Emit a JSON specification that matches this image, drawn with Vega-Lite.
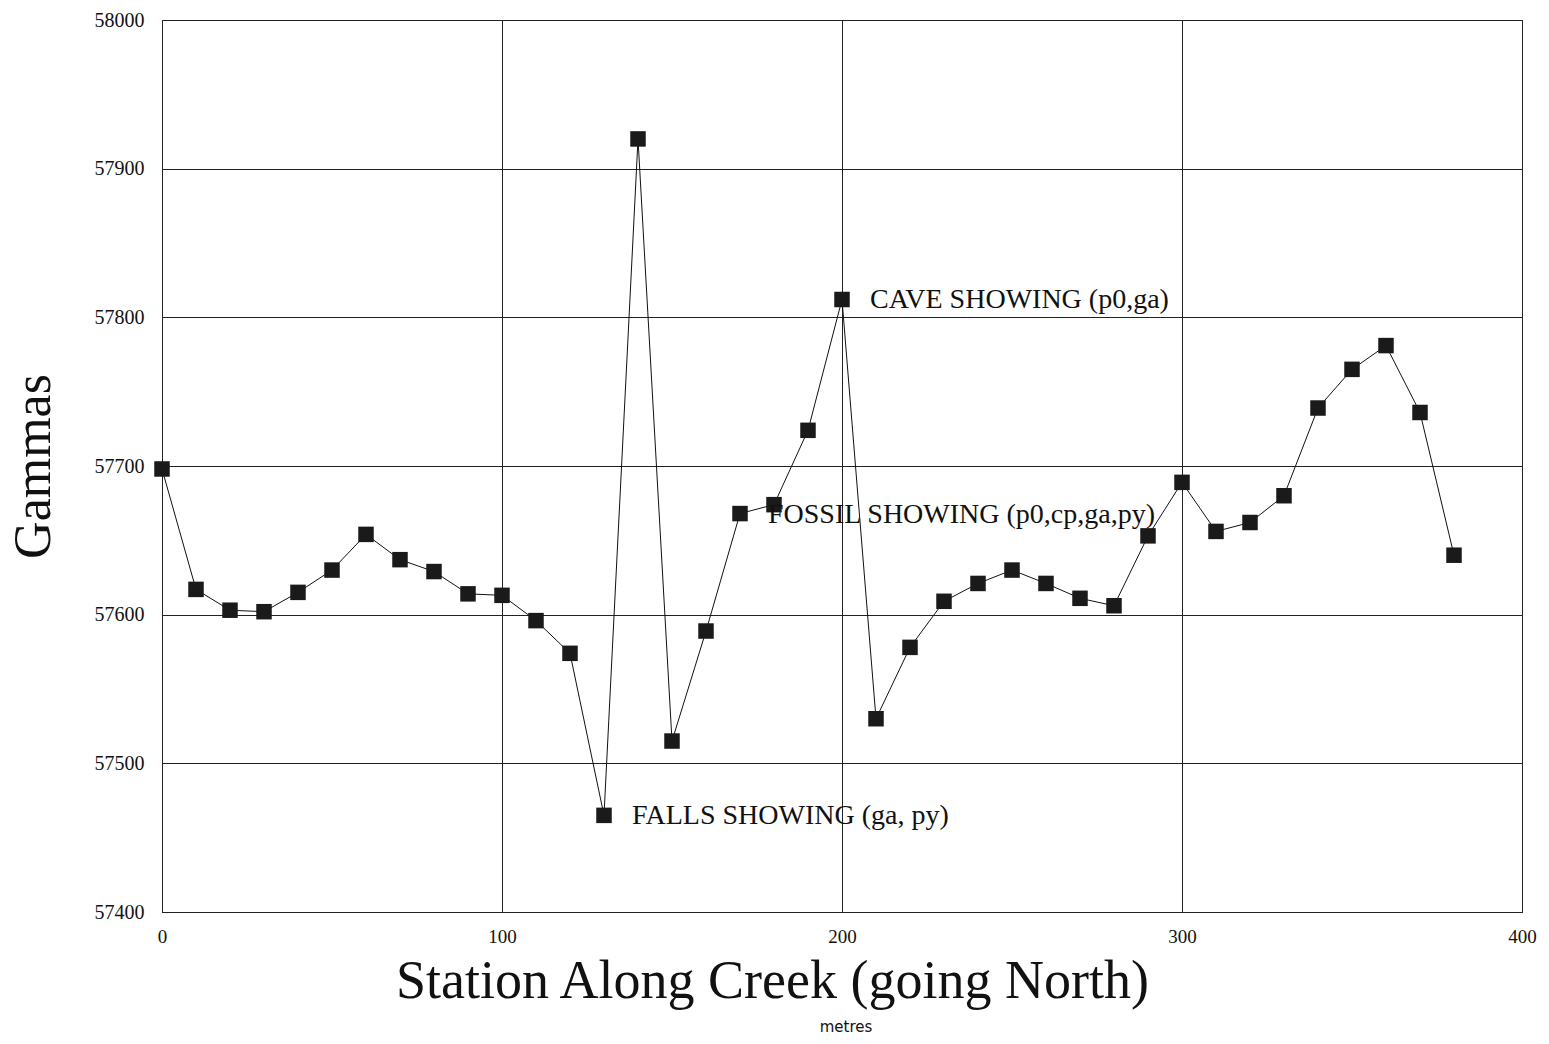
{
  "$schema": "https://vega.github.io/schema/vega-lite/v6.json",
  "width": 1360,
  "height": 892,
  "autosize": {"type": "none"},
  "padding": {"left": 162, "top": 20, "right": 27, "bottom": 132},
  "background": "white",
  "config": {
    "view": {"stroke": "#111", "strokeWidth": 1},
    "font": "Liberation Serif"
  },
  "title": {
    "text": "metres",
    "orient": "bottom",
    "anchor": "middle",
    "font": "DejaVu Sans",
    "fontSize": 15,
    "fontWeight": "normal",
    "color": "#111",
    "offset": 12,
    "dx": 4
  },
  "datasets": {
    "mag": [
      {"station": 0, "gammas": 57698},
      {"station": 10, "gammas": 57617},
      {"station": 20, "gammas": 57603},
      {"station": 30, "gammas": 57602},
      {"station": 40, "gammas": 57615},
      {"station": 50, "gammas": 57630},
      {"station": 60, "gammas": 57654},
      {"station": 70, "gammas": 57637},
      {"station": 80, "gammas": 57629},
      {"station": 90, "gammas": 57614},
      {"station": 100, "gammas": 57613},
      {"station": 110, "gammas": 57596},
      {"station": 120, "gammas": 57574},
      {"station": 130, "gammas": 57465},
      {"station": 140, "gammas": 57920},
      {"station": 150, "gammas": 57515},
      {"station": 160, "gammas": 57589},
      {"station": 170, "gammas": 57668},
      {"station": 180, "gammas": 57674},
      {"station": 190, "gammas": 57724},
      {"station": 200, "gammas": 57812},
      {"station": 210, "gammas": 57530},
      {"station": 220, "gammas": 57578},
      {"station": 230, "gammas": 57609},
      {"station": 240, "gammas": 57621},
      {"station": 250, "gammas": 57630},
      {"station": 260, "gammas": 57621},
      {"station": 270, "gammas": 57611},
      {"station": 280, "gammas": 57606},
      {"station": 290, "gammas": 57653},
      {"station": 300, "gammas": 57689},
      {"station": 310, "gammas": 57656},
      {"station": 320, "gammas": 57662},
      {"station": 330, "gammas": 57680},
      {"station": 340, "gammas": 57739},
      {"station": 350, "gammas": 57765},
      {"station": 360, "gammas": 57781},
      {"station": 370, "gammas": 57736},
      {"station": 380, "gammas": 57640}
    ],
    "notes": [
      {"station": 200, "gammas": 57812, "label": "CAVE SHOWING (p0,ga)"},
      {"station": 170, "gammas": 57668, "label": "FOSSIL SHOWING (p0,cp,ga,py)"},
      {"station": 130, "gammas": 57465, "label": "FALLS SHOWING (ga, py)"}
    ]
  },
  "encoding": {
    "x": {
      "field": "station",
      "type": "quantitative",
      "scale": {"domain": [0, 400], "nice": false, "zero": false},
      "axis": {
        "title": "Station Along Creek (going North)",
        "values": [0, 100, 200, 300, 400],
        "grid": true,
        "gridColor": "#222",
        "gridOpacity": 1,
        "gridWidth": 1,
        "ticks": false,
        "domain": false,
        "labelFont": "Liberation Serif",
        "labelFontSize": 19,
        "labelColor": "#111",
        "labelPadding": 15,
        "labelFlush": false,
        "titleFont": "Liberation Serif",
        "titleFontSize": 54,
        "titleFontWeight": "normal",
        "titleColor": "#111",
        "titleX": 610,
        "titleY": 85,
        "titleBaseline": "alphabetic"
      }
    },
    "y": {
      "field": "gammas",
      "type": "quantitative",
      "scale": {"domain": [57400, 58000], "nice": false, "zero": false},
      "axis": {
        "title": "Gammas",
        "values": [57400, 57500, 57600, 57700, 57800, 57900, 58000],
        "grid": true,
        "gridColor": "#222",
        "gridOpacity": 1,
        "gridWidth": 1,
        "ticks": false,
        "domain": false,
        "labelFont": "Liberation Serif",
        "labelFontSize": 20,
        "labelColor": "#111",
        "labelPadding": 18,
        "labelFlush": false,
        "format": "d",
        "titleFont": "Liberation Serif",
        "titleFontSize": 52,
        "titleFontWeight": "normal",
        "titleColor": "#111",
        "titleAngle": -90,
        "titleX": -129,
        "titleY": 446,
        "titleAlign": "center",
        "titleBaseline": "middle"
      }
    }
  },
  "layer": [
    {
      "data": {"name": "mag"},
      "mark": {"type": "line", "color": "#111", "strokeWidth": 1}
    },
    {
      "data": {"name": "mag"},
      "mark": {"type": "square", "filled": true, "color": "#1a1a1a", "opacity": 1, "size": 240}
    },
    {
      "data": {"name": "notes"},
      "mark": {"type": "text", "align": "left", "baseline": "alphabetic", "dx": 28, "dy": 9, "font": "Liberation Serif", "fontSize": 28, "color": "#111"},
      "encoding": {"text": {"field": "label"}}
    }
  ]
}
